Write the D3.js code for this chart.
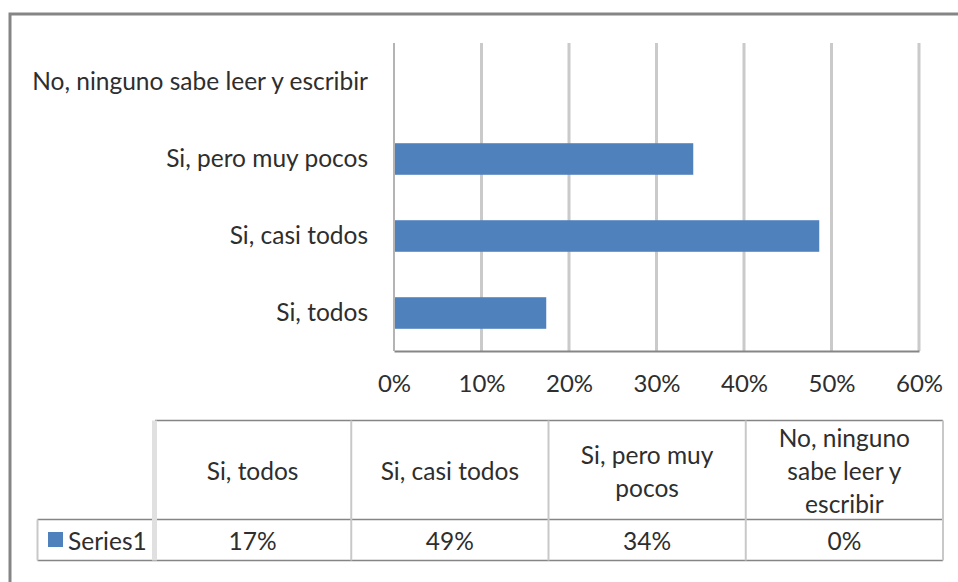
<!DOCTYPE html>
<html>
<head>
<meta charset="utf-8">
<script src="https://cdn.jsdelivr.net/npm/d3@7"></script>
<style>
  body { margin: 0; background: #fff; }
  svg text { font-family: Lato, "Open Sans", sans-serif; fill: #2e2e2e; }
</style>
</head>
<body>
<div id="chart"></div>
<script>
// chart data
var categories = ["Si, todos", "Si, casi todos", "Si, pero muy pocos", "No, ninguno sabe leer y escribir"]
var values = [0.174, 0.486, 0.342, 0]
var seriesName = "Series1"
var tableValues = ["17%", "49%", "34%", "0%"]
var headerLines = [["Si, todos"], ["Si, casi todos"], ["Si, pero muy", "pocos"], ["No, ninguno", "sabe leer y", "escribir"]]
var xTicks = [0, 0.1, 0.2, 0.3, 0.4, 0.5, 0.6]

var width = 958, height = 582
var fontSize = 24.5
var tickSize = 24

var svg = d3.select("#chart").append("svg")
    .attr("width", width)
    .attr("height", height)

// outer frame (right and bottom run off the picture)
svg.append("rect")
    .attr("x", 10).attr("y", 14)
    .attr("width", 1000).attr("height", 700)
    .attr("fill", "none")
    .attr("stroke", "#858585")
    .attr("stroke-width", 3)

var x = d3.scaleLinear().domain([0, 0.6]).range([394, 919])
var y = d3.scaleBand()
    .domain(categories.slice().reverse())
    .range([43.5, 351.5])
    .paddingInner(0.59)
    .paddingOuter(0.295)

// gridlines
svg.append("g")
    .selectAll("line")
    .data(xTicks.slice(1))
    .enter().append("line")
      .attr("x1", function (d) { return x(d) })
      .attr("x2", function (d) { return x(d) })
      .attr("y1", 43)
      .attr("y2", 351)
      .attr("stroke", "#cacaca")
      .attr("stroke-width", 3)

// bars
svg.append("g")
    .selectAll("rect")
    .data(categories)
    .enter().append("rect")
      .attr("x", x(0))
      .attr("y", function (d) { return y(d) })
      .attr("width", function (d, i) { return x(values[i]) - x(0) })
      .attr("height", y.bandwidth())
      .attr("fill", "#4f81bd")

// x axis
var xAxis = d3.axisBottom(x)
    .tickValues(xTicks)
    .tickSize(0)
    .tickPadding(24)
    .tickFormat(d3.format(".0%"))

var gx = svg.append("g")
    .attr("transform", "translate(0,351)")
    .call(xAxis)
gx.select(".domain").attr("stroke", "#868686").attr("stroke-width", 2)
gx.selectAll("text").style("font-size", tickSize + "px").attr("fill", "#2e2e2e")

// y axis
var yAxis = d3.axisLeft(y).tickSize(0).tickPadding(26)
var gy = svg.append("g")
    .attr("transform", "translate(394,0)")
    .call(yAxis)
gy.select(".domain").attr("stroke", "#b4b4b4").attr("stroke-width", 2)
    .attr("d", "M0,43V351")
gy.selectAll("text").style("font-size", fontSize + "px").attr("fill", "#2e2e2e")

// data table
var tx = d3.scaleBand().domain(categories).range([154, 943])
var tableTop = 420.5, rowLine = 519.5, tableBottom = 560.5, legendLeft = 37.5

var table = svg.append("g")

// horizontal rules
table.append("line").attr("x1", 155).attr("x2", 943).attr("y1", tableTop).attr("y2", tableTop)
    .attr("stroke", "#858585").attr("stroke-width", 1.5)
table.append("line").attr("x1", legendLeft).attr("x2", 943).attr("y1", rowLine).attr("y2", rowLine)
    .attr("stroke", "#858585").attr("stroke-width", 1.5)
table.append("line").attr("x1", legendLeft).attr("x2", 943).attr("y1", tableBottom).attr("y2", tableBottom)
    .attr("stroke", "#858585").attr("stroke-width", 1.5)

// legend cell left edge
table.append("line").attr("x1", legendLeft).attr("x2", legendLeft).attr("y1", rowLine).attr("y2", tableBottom)
    .attr("stroke", "#c8c8c8").attr("stroke-width", 2)

// vertical rules
table.append("line").attr("x1", 154.5).attr("x2", 154.5).attr("y1", tableTop).attr("y2", tableBottom)
    .attr("stroke", "#e0e0e0").attr("stroke-width", 5)
table.selectAll(".vline")
    .data(categories)
    .enter().append("line")
      .attr("class", "vline")
      .attr("x1", function (d) { return tx(d) + tx.bandwidth() })
      .attr("x2", function (d) { return tx(d) + tx.bandwidth() })
      .attr("y1", tableTop)
      .attr("y2", tableBottom)
      .attr("stroke", "#c8c8c8")
      .attr("stroke-width", 2)

// header text
var lineH = 33
table.selectAll(".head")
    .data(categories)
    .enter().append("text")
      .attr("class", "head")
      .attr("text-anchor", "middle")
      .attr("dominant-baseline", "central")
      .style("font-size", fontSize + "px")
      .each(function (d, i) {
        var lines = headerLines[i]
        var cy = (tableTop + rowLine) / 2
        d3.select(this).selectAll("tspan")
          .data(lines)
          .enter().append("tspan")
            .attr("x", tx(d) + tx.bandwidth() / 2)
            .attr("y", function (l, j) { return cy + (j - (lines.length - 1) / 2) * lineH })
            .text(function (l) { return l })
      })

// value row
table.selectAll(".val")
    .data(categories)
    .enter().append("text")
      .attr("class", "val")
      .attr("text-anchor", "middle")
      .attr("dominant-baseline", "central")
      .style("font-size", fontSize + "px")
      .attr("x", function (d) { return tx(d) + tx.bandwidth() / 2 })
      .attr("y", (rowLine + tableBottom) / 2)
      .text(function (d, i) { return tableValues[i] })

// legend key + name
table.append("rect")
    .attr("x", 48).attr("y", 532)
    .attr("width", 15).attr("height", 15)
    .attr("fill", "#4f81bd")
table.append("text")
    .attr("x", 68)
    .attr("y", (rowLine + tableBottom) / 2)
    .attr("dominant-baseline", "central")
    .style("font-size", fontSize + "px")
    .text(seriesName)
</script>
</body>
</html>
